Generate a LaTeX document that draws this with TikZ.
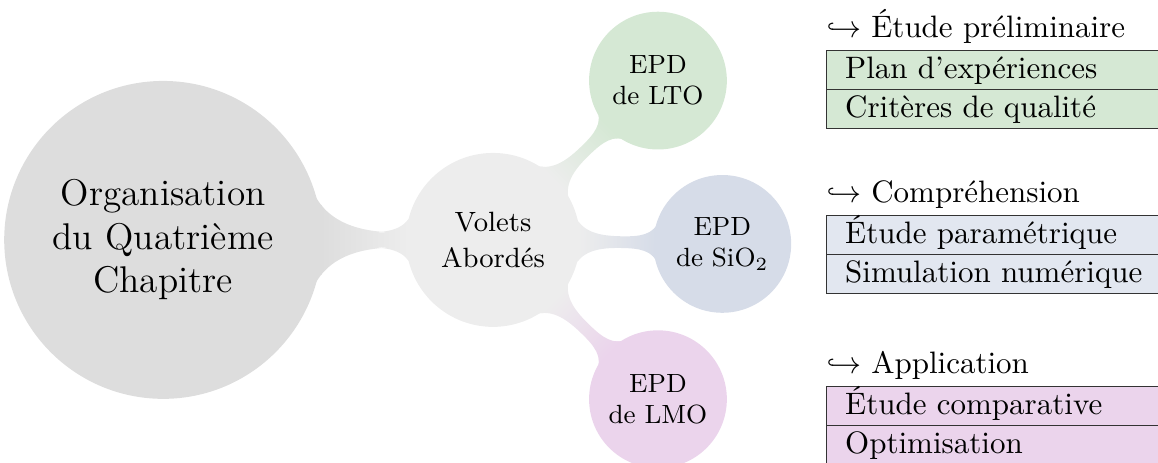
\documentclass[tikz,border=0pt]{standalone}
\usepackage{amsmath,amssymb}
\usetikzlibrary{mindmap,positioning}
\usepackage{xcolor}
\definecolor{rootgray}{RGB}{221,221,221}
\definecolor{voletgray}{RGB}{237,237,237}
\definecolor{ltogreen}{RGB}{213,232,212}
\definecolor{siobleu}{RGB}{214,220,232}
\definecolor{siopale}{RGB}{226,231,240}
\definecolor{lmorose}{RGB}{235,212,236}

\begin{document}
\begin{tikzpicture}[
    text=black,
    rootidea/.style={concept, minimum size=3.47cm, text width=3.2cm, font=\large},
    volet/.style={concept, minimum size=1.93cm, text width=1.7cm,
                  font=\fontsize{9}{11.5}\selectfont},
    epd/.style={concept, minimum size=1.52cm, text width=1.3cm,
                font=\fontsize{8.5}{10}\selectfont},
    head/.style={inner sep=0pt, font=\normalsize},
    item/.style={draw=black!80, fill=#1, anchor=north west, text width=3.5cm,
                 inner xsep=6pt, inner ysep=0pt, text height=9pt, text depth=3.55pt},
]
\useasboundingbox (0,0) rectangle (13.13,5.24);
\clip (0,0) rectangle (13.13,5.24);

% carte mentale
\begin{scope}[mindmap, concept color=rootgray,
    level 1 concept/.append style={level distance=3.74cm},
    level 2 concept/.append style={level distance=2.6cm}]
\node[rootidea] (root) at (1.85,2.52) {Organisation\\du Quatrième\\Chapitre}
    child[grow=0, concept color=voletgray] { node[volet] (volets) {Volets\\Abordés}
        child[grow=44, concept color=ltogreen] { node[epd] (lto) {EPD\\de LTO} }
        child[grow=-1, concept color=siobleu] { node[epd] (sio) {EPD\\de SiO$_2$} }
        child[grow=-44, concept color=lmorose] { node[epd] (lmo) {EPD\\de LMO} }
    };
\end{scope}

% volets
\node[item=ltogreen] (plan) at (9.365,4.671) {Plan d'expériences};
\node[item=ltogreen, below=-0.4pt of plan] (crit) {Critères de qualité};
\node[head, above=4pt of plan.north west, anchor=base west] (t1) {$\hookrightarrow$ Étude préliminaire};

\node[item=siopale] (param) at (9.365,2.800) {Étude paramétrique};
\node[item=siopale, below=-0.4pt of param] (simu) {Simulation numérique};
\node[head, above=4pt of param.north west, anchor=base west] (t2) {$\hookrightarrow$ Compréhension};

\node[item=lmorose] (comp) at (9.365,0.866) {Étude comparative};
\node[item=lmorose, below=-0.4pt of comp] (optim) {Optimisation};
\node[head, above=4pt of comp.north west, anchor=base west] (t3) {$\hookrightarrow$ Application};
\end{tikzpicture}
\end{document}
